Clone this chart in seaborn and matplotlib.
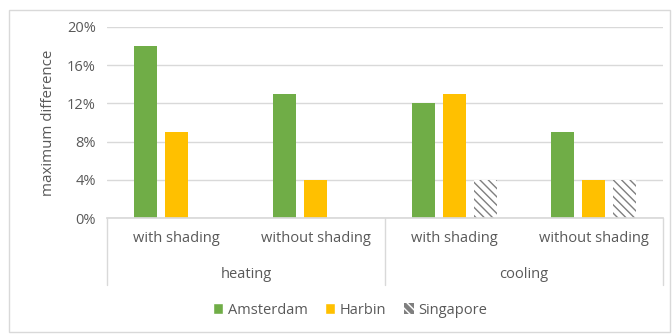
import matplotlib
matplotlib.use("Agg")
import matplotlib.pyplot as plt
import matplotlib.transforms as mtransforms
from matplotlib.patches import Rectangle, Patch
from matplotlib.ticker import FuncFormatter
import seaborn as sns
import pandas as pd
import numpy as np

categories = ["with shading", "without shading", "with shading", "without shading"]
groups = ["heating", "cooling"]
amsterdam = [18, 13, 12, 9]
harbin = [9, 4, 13, 4]
singapore = [0, 0, 4, 4]
cities = ["Amsterdam", "Harbin", "Singapore"]
yticks = [0, 4, 8, 12, 16, 20]

keys = [f"{i}" for i in range(len(categories))]
rows = []
for k, a, h, s in zip(keys, amsterdam, harbin, singapore):
    rows.append((k, "Amsterdam", a))
    rows.append((k, "Harbin", h))
    rows.append((k, "Singapore", s if s > 0 else np.nan))
df = pd.DataFrame(rows, columns=["cat", "city", "value"])

sns.set_theme(style="white")
plt.rcParams['font.family'] = ['Open Sans', 'DejaVu Sans']
txt = "#595959"
HATCH = "\\" * 4

fig = plt.figure(figsize=(6.72, 3.34), dpi=100)
ax = fig.add_axes([107/672, 1-218/334, (663-107)/672, (218-27)/334])

pal = {"Amsterdam": "#70AD47", "Harbin": "#FFC000", "Singapore": "white"}
sns.barplot(data=df, x="cat", y="value", hue="city", order=keys, hue_order=cities,
            palette=pal, width=0.67, gap=0.23, ax=ax, legend=False, saturation=1)

plt.rcParams['hatch.linewidth'] = 3.2
plt.rcParams['hatch.color'] = "#7f7f7f"
for cont, city in zip(ax.containers, cities):
    for p in cont.patches:
        p.set_linewidth(0)
        if city == "Singapore":
            p.set_hatch(HATCH)
            p.set_edgecolor("#7f7f7f")
            p.set_linewidth(0)

ax.set_ylim(0, 20)
ax.set_xlim(-0.5, len(categories) - 0.5)
ax.set_yticks(yticks)
ax.yaxis.set_major_formatter(FuncFormatter(lambda v, p: f"{v:.0f}%"))
ax.grid(axis="y", color="#d9d9d9", linewidth=1)
ax.set_axisbelow(True)
for s in ["top", "right", "left"]:
    ax.spines[s].set_visible(False)
ax.spines["bottom"].set_color("#d9d9d9")
ax.tick_params(axis="y", length=0, labelsize=10.5, labelcolor=txt, pad=8)
ax.set_xticks(range(len(categories)))
ax.set_xticklabels(categories)
ax.tick_params(axis="x", length=0, labelsize=10.5, labelcolor=txt, pad=9)
ax.set_xlabel("")
ax.set_ylabel("maximum difference", fontsize=10.8, color=txt, labelpad=8)

trans = mtransforms.blended_transform_factory(ax.transData, ax.transAxes)
bottom = -(285-218)/(218-27)
for xv in [-0.5, 1.5, 3.5]:
    ax.plot([xv, xv], [0, bottom], transform=trans, color="#d9d9d9", lw=1, clip_on=False)
for gi, g in enumerate(groups):
    ax.text(gi*2 + 0.5, -(274-218)/(218-27), g, transform=trans, ha="center", va="center",
            fontsize=10.5, color=txt)

handles = [Patch(facecolor="#70AD47", label="Amsterdam"),
           Patch(facecolor="#FFC000", label="Harbin"),
           Patch(facecolor="white", edgecolor="#7f7f7f", hatch=HATCH, linewidth=0, label="Singapore")]
fig.legend(handles=handles, loc="center", bbox_to_anchor=(350/672, 1-310/334), ncol=3,
           frameon=False, fontsize=10.5, labelcolor=txt, handlelength=0.7, handleheight=0.7,
           handletextpad=0.3, columnspacing=1.2)

fig.patches.append(Rectangle((9/672, 2/334), (670-9)/672, (328-6)/334, transform=fig.transFigure,
                             fill=False, edgecolor="#d9d9d9", lw=1))

fig.savefig("out.png", dpi=100, facecolor="white")
